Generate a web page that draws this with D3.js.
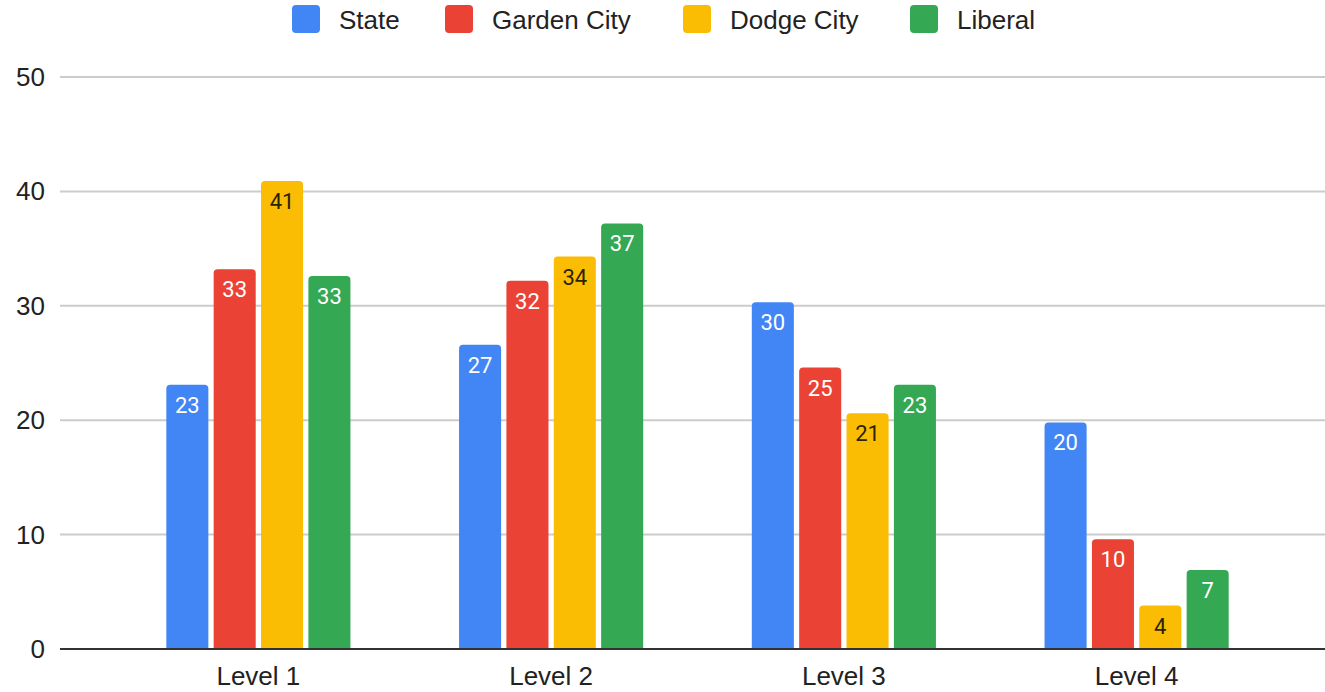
<!DOCTYPE html>
<html>
<head>
<meta charset="utf-8">
<script src="https://cdn.jsdelivr.net/npm/d3@7"></script>
<style>
  body { margin: 0; background: #fff; }
  svg { display: block; }
</style>
</head>
<body>
<div id="chart"></div>
<script>
// chart values
const levels = ["Level 1", "Level 2", "Level 3", "Level 4"];
const seriesNames = ["State", "Garden City", "Dodge City", "Liberal"];
const seriesColors = ["#4285f4", "#ea4335", "#fbbc04", "#34a853"];
const labelColors = ["#fff", "#fff", "#2b2400", "#fff"];
const stateValues = [23.1, 26.6, 30.3, 19.8];
const gardenCityValues = [33.2, 32.2, 24.6, 9.6];
const dodgeCityValues = [40.9, 34.3, 20.6, 3.8];
const liberalValues = [32.6, 37.2, 23.1, 6.9];
const yTicks = [0, 10, 20, 30, 40, 50];

const width = 1325;
const height = 692;

const allValues = [stateValues, gardenCityValues, dodgeCityValues, liberalValues];
const rows = [];
levels.forEach((lvl, i) => {
  seriesNames.forEach((s, j) => {
    rows.push({ level: lvl, series: s, idx: j, value: allValues[j][i] });
  });
});

const svg = d3.select("#chart").append("svg")
  .attr("width", width)
  .attr("height", height);

const yScale = d3.scaleLinear().domain([0, 50]).range([649, 77]);

const x0 = d3.scaleBand()
  .domain(levels)
  .range([112, 1283])
  .paddingInner(0.371)
  .paddingOuter(0.1855);

const x1 = d3.scaleBand()
  .domain(seriesNames)
  .range([0, x0.bandwidth()])
  .paddingInner(0.112);

// gridlines
svg.append("g")
  .selectAll("line")
  .data(yTicks.filter((t) => t > 0))
  .join("line")
  .attr("x1", 60)
  .attr("x2", width)
  .attr("y1", (d) => yScale(d))
  .attr("y2", (d) => yScale(d))
  .attr("stroke", "#cccccc")
  .attr("stroke-width", 2);

// y tick labels
svg.append("g")
  .selectAll("text")
  .data(yTicks)
  .join("text")
  .attr("x", 45)
  .attr("y", (d) => yScale(d) + 9)
  .attr("text-anchor", "end")
  .attr("font-family", "Arial, 'Liberation Sans', sans-serif")
  .attr("font-size", 26)
  .attr("fill", "#222")
  .text((d) => d);

// bars with rounded tops
function barPath(x, y, w, h, r) {
  r = Math.min(r, h, w / 2);
  return `M${x},${y + h}V${y + r}Q${x},${y} ${x + r},${y}H${x + w - r}Q${x + w},${y} ${x + w},${y + r}V${y + h}Z`;
}

const groups = svg.append("g")
  .selectAll("g")
  .data(rows)
  .join("g");

groups.append("path")
  .attr("d", (d) => {
    const x = x0(d.level) + x1(d.series);
    const y = yScale(d.value);
    return barPath(x, y, x1.bandwidth(), yScale(0) - y, 4);
  })
  .attr("fill", (d) => seriesColors[d.idx]);

groups.append("text")
  .attr("x", (d) => x0(d.level) + x1(d.series) + x1.bandwidth() / 2)
  .attr("y", (d) => yScale(d.value) + 28)
  .attr("text-anchor", "middle")
  .attr("font-family", "Roboto, Arial, sans-serif")
  .attr("font-size", 22)
  .attr("fill", (d) => labelColors[d.idx])
  .text((d) => Math.round(d.value));

// baseline
svg.append("line")
  .attr("x1", 60)
  .attr("x2", width)
  .attr("y1", yScale(0))
  .attr("y2", yScale(0))
  .attr("stroke", "#333")
  .attr("stroke-width", 2);

// x labels
svg.append("g")
  .selectAll("text")
  .data(levels)
  .join("text")
  .attr("x", (d) => x0(d) + x0.bandwidth() / 2)
  .attr("y", 685)
  .attr("text-anchor", "middle")
  .attr("font-family", "Arial, 'Liberation Sans', sans-serif")
  .attr("font-size", 26)
  .attr("fill", "#222")
  .text((d) => d);

// legend
const legendX = [292, 445, 683, 910];
const legend = svg.append("g")
  .selectAll("g")
  .data(seriesNames)
  .join("g")
  .attr("transform", (d, i) => `translate(${legendX[i]},5)`);

legend.append("rect")
  .attr("width", 28)
  .attr("height", 28)
  .attr("rx", 4)
  .attr("fill", (d, i) => seriesColors[i]);

legend.append("text")
  .attr("x", 47)
  .attr("y", 24)
  .attr("font-family", "Arial, 'Liberation Sans', sans-serif")
  .attr("font-size", 26)
  .attr("fill", "#222")
  .text((d) => d);
</script>
</body>
</html>
